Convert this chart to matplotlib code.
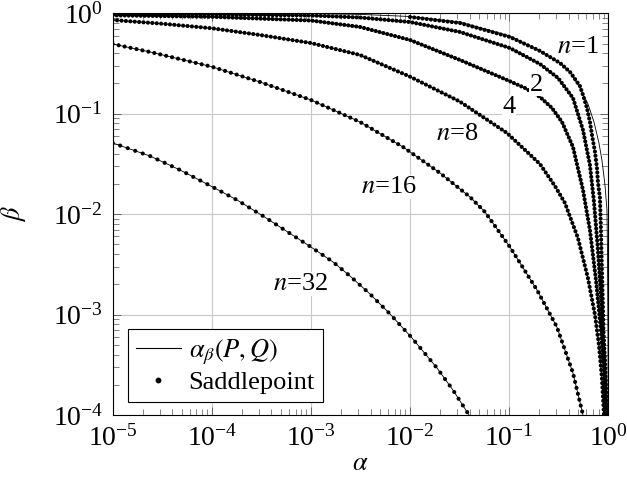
import matplotlib
matplotlib.use("Agg")
import matplotlib.pyplot as plt
from matplotlib.lines import Line2D
from matplotlib.ticker import LogLocator, NullFormatter
import numpy as np

plt.rcParams['font.family'] = 'serif'
plt.rcParams['font.serif'] = ['Liberation Serif', 'DejaVu Serif']
plt.rcParams['mathtext.fontset'] = 'stix'
plt.rcParams['font.size'] = 19

# values, as log10(alpha) / log10(beta)
la_1 = [-5, -4, -3, -2.505, -2.0, -1.496, -0.992, -0.689, -0.487, -0.386, -0.286,
        -0.205, -0.144, -0.094, -0.064, -0.033, -0.013, -0.007, -0.003, -0.001]
lb_1 = [-0.0005, -0.001, -0.004, -0.011, -0.032, -0.087, -0.226, -0.375, -0.495, -0.584, -0.744,
        -0.903, -1.082, -1.291, -1.461, -1.710, -1.959, -2.456, -3.153, -4.0]
# saddlepoint for n=1 (only drawn from alpha ~ 1e-2)
la_1s = [-2.0, -1.496, -0.992, -0.689, -0.487, -0.386, -0.286, -0.255, -0.215, -0.185,
         -0.164, -0.134, -0.114, -0.104, -0.084, -0.074, -0.064, -0.053, -0.043, -0.033]
lb_1s = [-0.037, -0.097, -0.236, -0.375, -0.495, -0.584, -0.724, -0.813, -0.943, -1.082,
         -1.212, -1.381, -1.540, -1.680, -1.839, -2.158, -2.556, -2.955, -3.452, -4.0]

la_2 = [-5, -4, -3, -2.505, -2.0, -1.496, -0.992, -0.689, -0.507, -0.356, -0.255,
        -0.185, -0.144, -0.104, -0.064, -0.033, -0.013]
lb_2 = [-0.007, -0.011, -0.022, -0.042, -0.087, -0.186, -0.346, -0.505, -0.644, -0.843, -1.162,
        -1.510, -1.879, -2.357, -2.955, -3.452, -4.0]

la_4 = [-5, -4, -3, -2.505, -2.0, -1.496, -1.022, -0.840, -0.689, -0.568, -0.467,
        -0.356, -0.255, -0.185, -0.124, -0.074, -0.043, -0.023]
lb_4 = [-0.020, -0.035, -0.072, -0.136, -0.266, -0.465, -0.664, -0.744, -0.833, -0.943, -1.082,
        -1.331, -1.759, -2.158, -2.656, -3.153, -3.552, -4.0]

la_8 = [-5, -4.523, -4, -3.514, -3, -2.505, -2.0, -1.496, -1.022, -0.840, -0.689,
        -0.538, -0.437, -0.306, -0.205, -0.134, -0.094, -0.064, -0.043]
lb_8 = [-0.067, -0.102, -0.149, -0.216, -0.296, -0.415, -0.631, -0.880, -1.192, -1.361, -1.501,
        -1.720, -1.889, -2.237, -2.636, -3.004, -3.303, -3.631, -4.0]

la_16 = [-5, -4.624, -4, -3.514, -3, -2.505, -2.071, -1.698, -1.395, -1.244, -0.992,
         -0.719, -0.518, -0.356, -0.255]
lb_16 = [-0.306, -0.385, -0.532, -0.684, -0.863, -1.082, -1.331, -1.590, -1.829, -1.978, -2.327,
         -2.755, -3.124, -3.582, -4.0]

la_32 = [-5, -4.624, -4.321, -4.0, -3.746, -3.484, -3.0, -2.777, -2.606, -2.404, -2.202,
         -1.980, -1.728, -1.567, -1.405]
lb_32 = [-1.291, -1.421, -1.560, -1.725, -1.859, -2.018, -2.327, -2.476, -2.616, -2.795, -2.994,
         -3.233, -3.532, -3.751, -4.0]

labels = ['$n$=1', '2', '4', '$n$=8', '$n$=16', '$n$=32']
label_a = [0.494, 0.188, 0.1, 0.0301, 0.00614, 7.9e-4]
label_b = [0.40, 0.17, 0.101, 0.0547, 0.01625, 0.00176]

fig = plt.figure(figsize=(6.27, 4.83), dpi=100)
ax = fig.add_axes([0.1797, 0.1408, 0.7904, 0.8317])
ax.set_xscale('log')
ax.set_yscale('log')

exact = [(la_1, lb_1), (la_2, lb_2), (la_4, lb_4), (la_8, lb_8), (la_16, lb_16), (la_32, lb_32)]
saddle = [(la_1s, lb_1s), (la_2, lb_2), (la_4, lb_4), (la_8, lb_8), (la_16, lb_16), (la_32, lb_32)]
gaps = [1.0, 0.95, 0.95, 1.05, 1.45, 1.9]

for la, lb in exact:
    ax.plot(10 ** np.array(la), 10 ** np.array(lb), color='k', lw=0.6, zorder=3)

# saddlepoint series drawn as round dots
dot_lw = 3.0
for (sa, sb), g in zip(saddle, gaps):
    ax.plot(10 ** np.array(sa), 10 ** np.array(sb), color='k', lw=dot_lw,
            linestyle=(0, (0.01, g)), dash_capstyle='round', zorder=4)

for t, a, b in zip(labels, label_a, label_b):
    ax.text(a, b, t, ha='center', va='baseline', zorder=5,
            bbox=dict(facecolor='white', edgecolor='none', pad=0.5))

ax.set_xlim(1e-5, 1)
ax.set_ylim(1e-4, 1)
for axis in (ax.xaxis, ax.yaxis):
    axis.set_major_locator(LogLocator(base=10, numticks=12))
    axis.set_minor_locator(LogLocator(base=10, subs=np.arange(2, 10), numticks=12))
    axis.set_minor_formatter(NullFormatter())
ax.grid(True, which='major', color='#c8c8c8', lw=0.8)
ax.set_axisbelow(True)
ax.tick_params(which='both', direction='in', top=True, right=True, color='#555555')
ax.tick_params(which='major', length=6, width=0.6, pad=7, labelsize=20)
ax.tick_params(which='minor', length=4, width=0.5)
for s in ax.spines.values():
    s.set_linewidth(0.8)

ax.set_xlabel(r'$\alpha$', labelpad=1)
ax.set_ylabel(r'$\beta$', labelpad=18)

handles = [Line2D([0], [0], color='k', lw=0.8),
           Line2D([0], [0], ls='none', marker='o', ms=3.2, color='k')]
leg = ax.legend(handles, [r'$\alpha_\beta(P,Q)$', 'Saddlepoint'], loc='lower left',
                bbox_to_anchor=(0.031, 0.032), borderaxespad=0, fancybox=False,
                edgecolor='k', framealpha=1, handlelength=1.7, handletextpad=0.3,
                labelspacing=0.15, borderpad=0.3)
leg.get_frame().set_linewidth(0.8)

fig.savefig('out.png', dpi=100)
